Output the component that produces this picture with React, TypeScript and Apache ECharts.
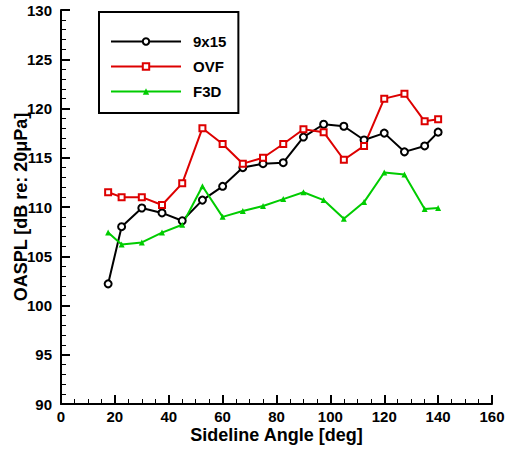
import React, { useEffect, useRef } from "react";
import * as echarts from "echarts";

const angles = [17.5, 22.5, 30, 37.5, 45, 52.5, 60, 67.5, 75, 82.5, 90, 97.5, 105, 112.5, 120, 127.5, 135, 140];
const s9x15 = [102.2, 108.0, 109.9, 109.4, 108.6, 110.7, 112.1, 114.0, 114.4, 114.5, 117.1, 118.4, 118.2, 116.8, 117.5, 115.6, 116.2, 117.6];
const sOVF = [111.5, 111.0, 111.0, 110.2, 112.4, 118.0, 116.4, 114.4, 115.0, 116.4, 117.9, 117.6, 114.8, 116.2, 121.0, 121.5, 118.7, 118.9];
const sF3D = [107.4, 106.2, 106.4, 107.4, 108.2, 112.1, 109.0, 109.6, 110.1, 110.8, 111.5, 110.7, 108.8, 110.5, 113.5, 113.3, 109.8, 109.9];
const seriesNames = ["9x15", "OVF", "F3D"];

const FONT = "'Liberation Sans', Arial, sans-serif";

export default function App() {
  const ref = useRef<HTMLDivElement>(null);
  useEffect(() => {
    if (!ref.current) return;
    const chart = echarts.init(ref.current, null, { renderer: "svg" });
    const pts = (vals: number[]) => angles.map((a, i) => [a, vals[i]]);
    const axisCommon = {
      axisLine: { show: true, onZero: false, lineStyle: { color: "#000", width: 2 } },
      axisTick: { show: true, inside: true, length: 9, lineStyle: { color: "#000", width: 2 } },
      minorTick: { show: true, length: 5, lineStyle: { color: "#000", width: 1 } },
      splitLine: { show: false },
      axisLabel: { color: "#000", fontFamily: FONT, fontWeight: "bold", fontSize: 15, lineHeight: 15 },
      nameTextStyle: { color: "#000", fontFamily: FONT, fontWeight: "bold", fontSize: 18, lineHeight: 17 },
      nameLocation: "middle",
      nameMoveOverlap: false,
    };
    chart.setOption({
      animation: false,
      backgroundColor: "#fff",
      grid: { left: 61, right: 16, top: 10, bottom: 45, containLabel: false, outerBoundsMode: "none" },
      xAxis: {
        type: "value",
        min: 0,
        max: 160,
        interval: 20,
        name: "Sideline Angle [deg]",
        nameGap: 22,
        ...axisCommon,
        minorTick: { ...axisCommon.minorTick, splitNumber: 4 },
        axisLabel: { ...axisCommon.axisLabel, margin: 5 },
      },
      yAxis: {
        type: "value",
        min: 90,
        max: 130,
        interval: 5,
        name: "OASPL [dB re: 20μPa]",
        nameGap: 32,
        ...axisCommon,
        minorTick: { ...axisCommon.minorTick, splitNumber: 5 },
        axisLabel: { ...axisCommon.axisLabel, margin: 9 },
      },
      legend: {
        orient: "vertical",
        left: 99,
        top: 12,
        padding: [22, 12, 14, 11],
        borderColor: "#000",
        borderWidth: 2,
        backgroundColor: "#fff",
        itemWidth: 70,
        itemHeight: 8,
        itemGap: 10,
        data: seriesNames,
        textStyle: { color: "#000", fontFamily: FONT, fontWeight: "bold", fontSize: 15, padding: [0, 0, 0, 7] },
      },
      series: [
        {
          name: seriesNames[0],
          type: "line",
          data: pts(s9x15),
          symbol: "emptyCircle",
          symbolSize: 7,
          lineStyle: { color: "#000", width: 2 },
          itemStyle: { color: "#000", borderWidth: 1.5 },
        },
        {
          name: seriesNames[1],
          type: "line",
          data: pts(sOVF),
          symbol: "emptyRect",
          symbolSize: 6,
          lineStyle: { color: "#dd0000", width: 2 },
          itemStyle: { color: "#dd0000", borderWidth: 1.5 },
        },
        {
          name: seriesNames[2],
          type: "line",
          data: pts(sF3D),
          symbol: "triangle",
          symbolSize: 6,
          lineStyle: { color: "#00cc00", width: 2 },
          itemStyle: { color: "#00cc00" },
        },
      ],
    });
    return () => chart.dispose();
  }, []);
  return <div ref={ref} style={{ width: 508, height: 449, position: "absolute", left: 0, top: 0 }} />;
}
